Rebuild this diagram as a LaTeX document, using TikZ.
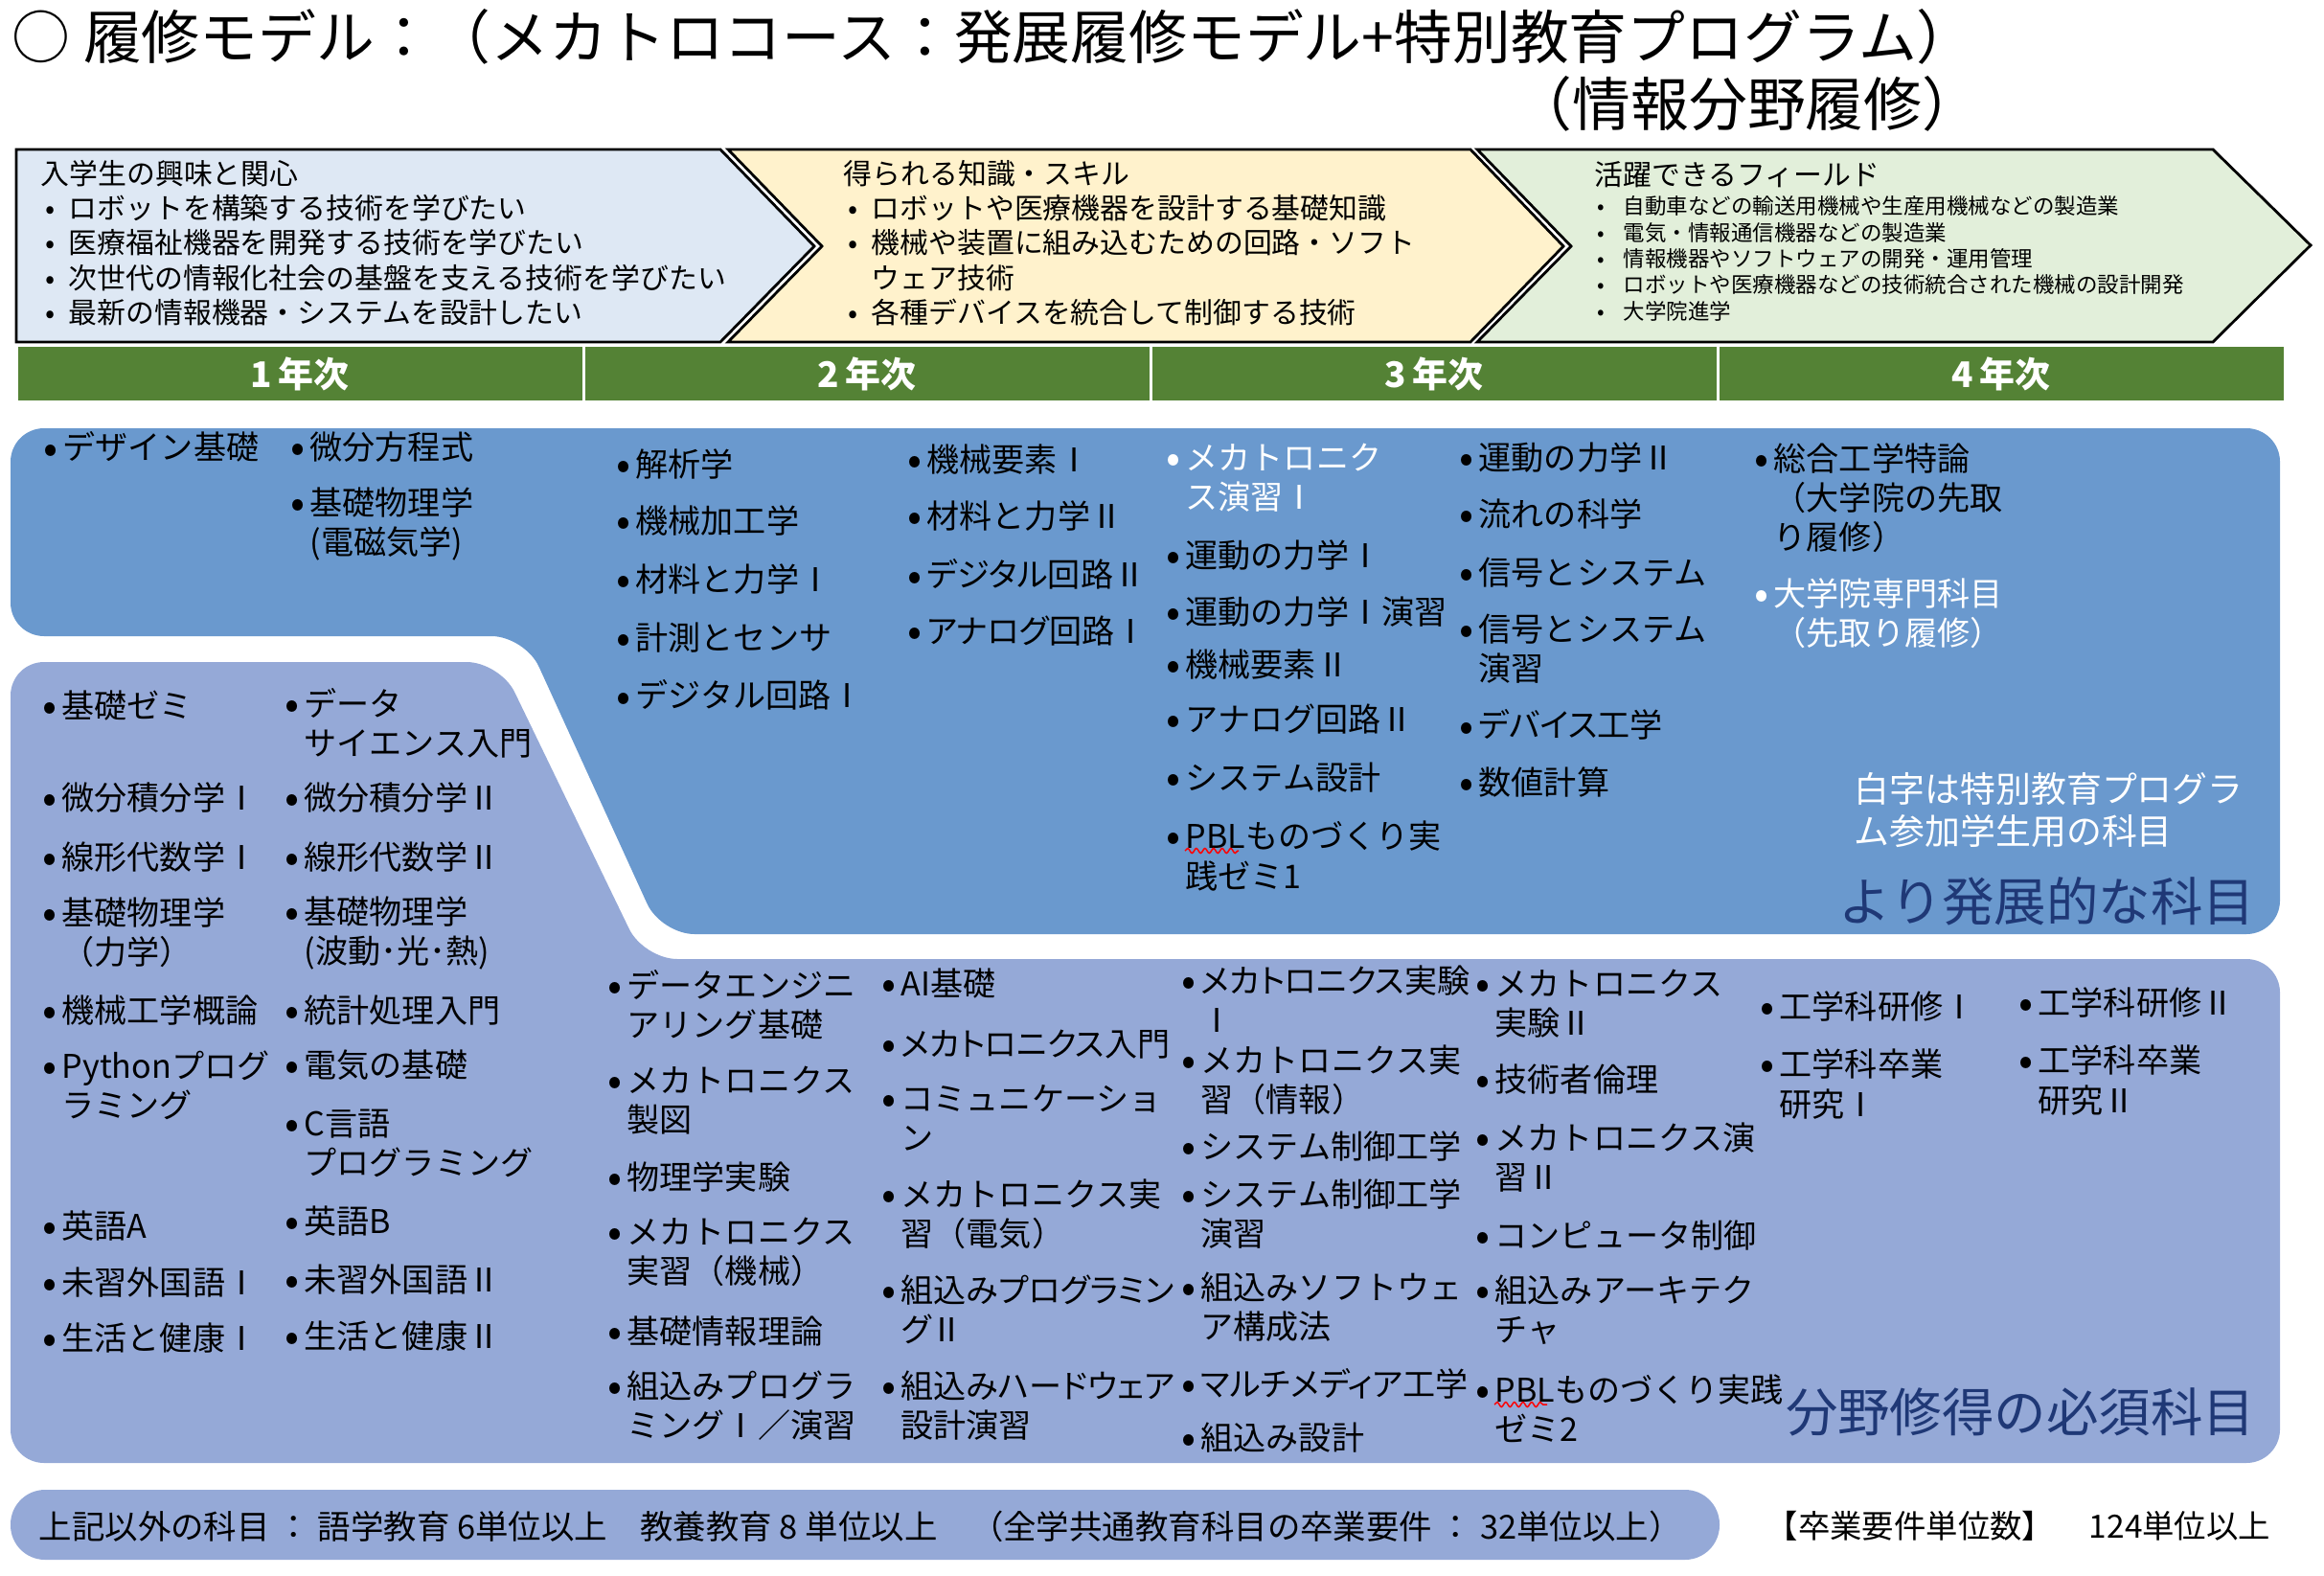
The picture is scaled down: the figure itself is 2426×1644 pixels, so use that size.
\documentclass[tikz,border=0pt]{standalone}
\usepackage{fontspec}
\setmainfont{Noto Sans CJK JP}
\newfontfamily\jpcond[RawFeature=+palt]{Noto Sans CJK JP}
\usepackage{xcolor}
\usepackage{tikz}
\usetikzlibrary{decorations.pathmorphing}
\definecolor{kyomiblue}{RGB}{222,232,244}
\definecolor{chishikiyellow}{RGB}{255,242,204}
\definecolor{fieldgreen}{RGB}{226,239,218}
\definecolor{nengreen}{RGB}{84,130,53}
\definecolor{hattenblue}{RGB}{106,153,206}
\definecolor{hissublue}{RGB}{149,169,215}
\definecolor{kamokunavy}{RGB}{31,56,118}
\newcommand{\kb}{\makebox[2mm][l]{\raisebox{-0.09em}{\scalebox{1.3}{\textbullet}}}}
\newcommand{\ki}{\hspace*{2mm}}
\newcommand{\cb}{\hspace*{0.5mm}\makebox[2.4mm][l]{\textbullet}}
\newcommand{\fb}{\hspace*{0.3mm}\makebox[2.7mm][l]{\textbullet}}

\begin{document}
\begin{tikzpicture}[x=0.1mm,y=-0.1mm,
        kmk/.style={anchor=west,inner sep=0pt,align=left,font=\fontsize{9.7}{11.7}\selectfont},
        kmkc/.style={kmk,font=\jpcond\fontsize{9.7}{11.7}\selectfont},
        chevtxt/.style={anchor=west,inner sep=0pt,align=left,font=\fontsize{8.5}{10.3}\selectfont},
        fieldtxt/.style={anchor=west,inner sep=0pt,align=left,font=\fontsize{6.4}{7.8}\selectfont},
        chev/.style={draw=black,line width=0.28mm,line join=miter},
        nen/.style={fill=nengreen,draw=white,line width=0.3mm,minimum width=59.2mm,minimum height=5.9mm,text=white,font=\fontsize{10.5}{12}\selectfont\bfseries},
        navy/.style={anchor=east,inner sep=0pt,text=kamokunavy,font=\fontsize{15.5}{18}\selectfont},
        wavy/.style={draw=red,line width=0.15mm,decorate,decoration={snake,amplitude=0.25mm,segment length=0.9mm}}]
        \useasboundingbox (0,0) rectangle (2426,1644);

        \node[anchor=west,inner sep=0pt,font=\fontsize{17.3}{20}\selectfont] (midashi) at (12,38) {○ 履修モデル：（メカトロコース：発展履修モデル+特別教育プログラム）};
        \node[anchor=east,inner sep=0pt,font=\fontsize{17.3}{20}\selectfont] (bunya) at (2068,108) {（情報分野履修）};

        \draw[chev,fill=kyomiblue] (17,156) -- (752,156) -- (850,257) -- (752,357) -- (17,357) -- cycle;
        \draw[chev,fill=chishikiyellow] (760,156) -- (1535,156) -- (1632,257) -- (1535,357) -- (760,357) -- (858,257) -- cycle;
        \draw[chev,fill=fieldgreen] (1542,156) -- (2310,156) -- (2412,256) -- (2310,357) -- (1542,357) -- (1640,257) -- cycle;
        \node[chevtxt] (kyomi) at (42,253.5) {入学生の興味と関心\\\cb ロボットを構築する技術を学びたい\\\cb 医療福祉機器を開発する技術を学びたい\\\cb 次世代の情報化社会の基盤を支える技術を学びたい\\\cb 最新の情報機器・システムを設計したい};
        \node[chevtxt] (chishiki) at (880,253.5) {得られる知識・スキル\\\cb ロボットや医療機器を設計する基礎知識\\\cb 機械や装置に組み込むための回路・ソフト\\\hspace*{2.9mm}ウェア技術\\\cb 各種デバイスを統合して制御する技術};
        \node[chevtxt] (field) at (1664,182) {活躍できるフィールド};
        \node[fieldtxt] (fieldlist) at (1664,270) {\fb 自動車などの輸送用機械や生産用機械などの製造業\\\fb 電気・情報通信機器などの製造業\\\fb 情報機器やソフトウェアの開発・運用管理\\\fb ロボットや医療機器などの技術統合された機械の設計開発\\\fb 大学院進学};

        \node[nen] (nen1) at (313,390) {1\,年次};
        \node[nen] (nen2) at (905,390) {2\,年次};
        \node[nen] (nen3) at (1497,390) {3\,年次};
        \node[nen] (nen4) at (2089,390) {4\,年次};

        \fill[hattenblue,rounded corners=3.5mm] (11,447) -- (2380,447) -- (2380,975) -- (690,975) -- (548,664) -- (11,664) -- cycle;
        \fill[hissublue,rounded corners=3.5mm] (11,691) -- (522,691) -- (672,1001) -- (2380,1001) -- (2380,1527) -- (11,1527) -- cycle;
        \fill[hissublue,rounded corners=3.6mm] (11,1555) rectangle (1795,1628);

        \node[kmk] (hA1) at (45,467) {\kb デザイン基礎};
        \node[kmk] (hB1) at (303,467) {\kb 微分方程式};
        \node[kmk] (hB2) at (303,546.5) {\kb 基礎物理学\\\ki (電磁気学)};
        \node[kmk] (hC1) at (643,485) {\kb 解析学};
        \node[kmk] (hC2) at (643,544) {\kb 機械加工学};
        \node[kmk] (hC3) at (643,605) {\kb 材料と力学Ⅰ};
        \node[kmk] (hC4) at (643,666) {\kb 計測とセンサ};
        \node[kmk] (hC5) at (643,726) {\kb デジタル回路Ⅰ};
        \node[kmk] (hD1) at (947,480) {\kb 機械要素Ⅰ};
        \node[kmk] (hD2) at (947,539) {\kb 材料と力学Ⅱ};
        \node[kmkc] (hD3) at (947,600) {\kb デジタル回路Ⅱ};
        \node[kmkc] (hD4) at (947,659) {\kb アナログ回路Ⅰ};
        \node[kmk,text=white] (hE1) at (1217,498.5) {\kb メカトロニク\\\ki ス演習Ⅰ};
        \node[kmk] (hE2) at (1217,580) {\kb 運動の力学Ⅰ};
        \node[kmk] (hE3) at (1217,639) {\kb 運動の力学Ⅰ演習};
        \node[kmk] (hE4) at (1217,694) {\kb 機械要素Ⅱ};
        \node[kmk] (hE5) at (1217,751) {\kb アナログ回路Ⅱ};
        \node[kmk] (hE6) at (1217,812) {\kb システム設計};
        \node[kmk] (hE7) at (1217,893.5) {\kb PBLものづくり実\\\ki 践ゼミ1};
        \node[kmk] (hF1) at (1523,478) {\kb 運動の力学Ⅱ};
        \node[kmk] (hF2) at (1523,537) {\kb 流れの科学};
        \node[kmk] (hF3) at (1523,598) {\kb 信号とシステム};
        \node[kmk] (hF4) at (1523,677) {\kb 信号とシステム\\\ki 演習};
        \node[kmkc] (hF5) at (1523,757) {\kb デバイス工学};
        \node[kmk] (hF6) at (1523,817) {\kb 数値計算};
        \node[kmk] (hG1) at (1831,520) {\kb 総合工学特論\\\ki （大学院の先取\\\ki り履修）};
        \node[kmk,text=white] (hG2) at (1831,640.5) {\kb 大学院専門科目\\\ki （先取り履修）};
        \node[kmk,text=white,font=\fontsize{10.5}{12.8}\selectfont] (shiroji) at (1935,845.5) {白字は特別教育プログラ\\ム参加学生用の科目};
        \node[navy] (hatten) at (2355,941) {より発展的な科目};

        \node[kmk] (sA1) at (44,737) {\kb 基礎ゼミ};
        \node[kmk] (sA2) at (44,833) {\kb 微分積分学Ⅰ};
        \node[kmk] (sA3) at (44,895) {\kb 線形代数学Ⅰ};
        \node[kmk] (sA4) at (44,973.5) {\kb 基礎物理学\\\ki （力学）};
        \node[kmk] (sA5) at (44,1055) {\kb 機械工学概論};
        \node[kmk] (sA6) at (44,1133) {\kb Pythonプログ\\\ki ラミング};
        \node[kmk] (sA7) at (44,1280) {\kb 英語A};
        \node[kmk] (sA8) at (44,1339) {\kb 未習外国語Ⅰ};
        \node[kmk] (sA9) at (44,1397) {\kb 生活と健康Ⅰ};
        \node[kmk] (sB1) at (297,754.5) {\kb データ\\\ki サイエンス入門};
        \node[kmk] (sB2) at (297,833) {\kb 微分積分学Ⅱ};
        \node[kmk] (sB3) at (297,895) {\kb 線形代数学Ⅱ};
        \node[kmk] (sB4) at (297,973.5) {\kb 基礎物理学\\\ki (波動･光･熱)};
        \node[kmk] (sB5) at (297,1055) {\kb 統計処理入門};
        \node[kmk] (sB6) at (297,1112) {\kb 電気の基礎};
        \node[kmk] (sB7) at (297,1193.5) {\kb C言語\\\ki プログラミング};
        \node[kmk] (sB8) at (297,1275) {\kb 英語B};
        \node[kmk] (sB9) at (297,1336) {\kb 未習外国語Ⅱ};
        \node[kmk] (sB10) at (297,1395) {\kb 生活と健康Ⅱ};
        \node[kmk] (sC1) at (634,1049) {\kb データエンジニ\\\ki アリング基礎};
        \node[kmk] (sC2) at (634,1149) {\kb メカトロニクス\\\ki 製図};
        \node[kmk] (sC3) at (634,1229) {\kb 物理学実験};
        \node[kmk] (sC4) at (634,1306.5) {\kb メカトロニクス\\\ki 実習（機械）};
        \node[kmk] (sC5) at (634,1390) {\kb 基礎情報理論};
        \node[kmk] (sC6) at (634,1467.5) {\kb 組込みプログラ\\\ki ミングⅠ／演習};
        \node[kmk] (sD1) at (920,1027) {\kb AI基礎};
        \node[kmkc] (sD2) at (920,1090) {\kb メカトロニクス入門};
        \node[kmk] (sD3) at (920,1166.5) {\kb コミュニケーショ\\\ki ン};
        \node[kmk] (sD4) at (920,1267.5) {\kb メカトロニクス実\\\ki 習（電気）};
        \node[kmkc] (sD5) at (920,1366.5) {\kb 組込みプログラミン\\\ki グⅡ};
        \node[kmkc] (sD6) at (920,1467.5) {\kb 組込みハードウェア\\\ki 設計演習};
        \node[kmkc] (sE1) at (1233,1042.5) {\kb メカトロニクス実験\\\ki Ⅰ};
        \node[kmk] (sE2) at (1233,1127) {\kb メカトロニクス実\\\ki 習（情報）};
        \node[kmk] (sE3) at (1233,1197) {\kb システム制御工学};
        \node[kmk] (sE4) at (1233,1267) {\kb システム制御工学\\\ki 演習};
        \node[kmk] (sE5) at (1233,1364.5) {\kb 組込みソフトウェ\\\ki ア構成法};
        \node[kmkc] (sE6) at (1233,1444) {\kb マルチメディア工学};
        \node[kmk] (sE7) at (1233,1501) {\kb 組込み設計};
        \node[kmk] (sF1) at (1540,1048) {\kb メカトロニクス\\\ki 実験Ⅱ};
        \node[kmk] (sF2) at (1540,1127) {\kb 技術者倫理};
        \node[kmk] (sF3) at (1540,1208.5) {\kb メカトロニクス演\\\ki 習Ⅱ};
        \node[kmk] (sF4) at (1540,1290) {\kb コンピュータ制御};
        \node[kmk] (sF5) at (1540,1367.5) {\kb 組込みアーキテク\\\ki チャ};
        \node[kmk] (sF6) at (1540,1470.5) {\kb PBLものづくり実践\\\ki ゼミ2};
        \node[kmk] (sG1) at (1837,1051) {\kb 工学科研修Ⅰ};
        \node[kmk] (sG2) at (1837,1131.5) {\kb 工学科卒業\\\ki 研究Ⅰ};
        \node[kmk] (sH1) at (2107,1047) {\kb 工学科研修Ⅱ};
        \node[kmk] (sH2) at (2107,1127.5) {\kb 工学科卒業\\\ki 研究Ⅱ};
        \node[navy] (hissu) at (2355,1474) {分野修得の必須科目};

        \draw[wavy] (1237,888) -- (1293,888);
        \draw[wavy] (1560,1466) -- (1615,1466);

        \node[anchor=west,inner sep=0pt,font=\fontsize{9.8}{11.5}\selectfont] (sonota) at (40,1593) {上記以外の科目 ： 語学教育 6単位以上　教養教育 8 単位以上　（全学共通教育科目の卒業要件 ： 32単位以上）};
        \node[anchor=west,inner sep=0pt,font=\fontsize{9.5}{11.5}\selectfont] (sotsugyo) at (1843,1593) {【卒業要件単位数】\hspace{1.1em}124単位以上};
      \end{tikzpicture}
\end{document}
